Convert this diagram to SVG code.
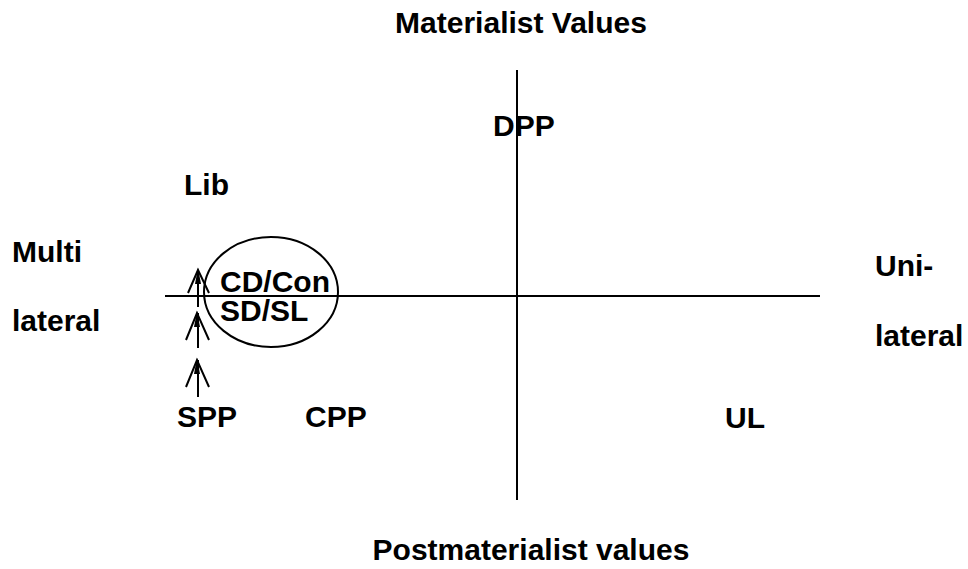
<svg xmlns="http://www.w3.org/2000/svg" width="968" height="569" viewBox="0 0 968 569">
<style>
text{font-family:"Liberation Sans",Arial,sans-serif;font-weight:bold;font-size:30px;fill:#000}
.ln{stroke:#000;stroke-width:2;fill:none}
.ah{stroke:#000;stroke-width:2;fill:none}
.tip{fill:#000;stroke:none}
</style>
<rect width="968" height="569" fill="#fff"/>
<g id="axes" class="connectors">
<line class="ln" x1="165" y1="296" x2="820" y2="296"/>
<line class="ln" x1="517" y1="70" x2="517" y2="500"/>
</g>
<g id="circle-node">
<ellipse class="ln" cx="271" cy="292" rx="67" ry="55"/>
<text x="220" y="292">CD/Con</text>
<text x="220" y="321">SD/SL</text>
</g>
<g id="arrows" class="connectors">
<path class="ah" d="M198 307 V270 M188 293 L198 270 L209 293"/>
<path class="tip" d="M198 268 L195 284 L201 284 Z"/>
<path class="ah" d="M198 348 V313 M186 340 L197 313 L209 340"/>
<path class="tip" d="M197 311 L194 327 L200 327 Z"/>
<path class="ah" d="M198 397 V360 M186 387 L197 360 L209 387"/>
<path class="tip" d="M197 358 L194 374 L200 374 Z"/>
</g>
<g id="title-top"><text x="521" y="33" text-anchor="middle">Materialist Values</text></g>
<g id="title-bottom"><text x="531" y="560" text-anchor="middle">Postmaterialist values</text></g>
<g id="dpp"><text x="493" y="136">DPP</text></g>
<g id="lib"><text x="184" y="195">Lib</text></g>
<g id="multilateral"><text x="12" y="262">Multi</text><text x="12" y="331">lateral</text></g>
<g id="unilateral"><text x="875" y="276">Uni-</text><text x="875" y="346">lateral</text></g>
<g id="spp"><text x="177" y="427">SPP</text></g>
<g id="cpp"><text x="305" y="427">CPP</text></g>
<g id="ul"><text x="725" y="428">UL</text></g>
</svg>
